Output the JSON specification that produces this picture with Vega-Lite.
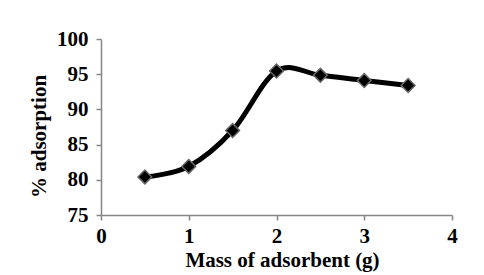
{
  "$schema": "https://vega.github.io/schema/vega-lite/v6.json",
  "autosize": "none",
  "width": 351,
  "height": 176,
  "padding": {"left": 101, "top": 39, "right": 32, "bottom": 60},
  "background": "white",
  "config": {
    "view": {"stroke": null},
    "font": "Liberation Serif",
    "axis": {
      "grid": false,
      "domainColor": "#868686",
      "tickColor": "#868686",
      "domainWidth": 1.5,
      "tickWidth": 1.5,
      "tickSize": 5,
      "labelFont": "Liberation Serif",
      "labelFontSize": 21,
      "labelFontWeight": "bold",
      "labelColor": "black",
      "titleFont": "Liberation Serif",
      "titleFontSize": 21,
      "titleFontWeight": "bold",
      "titleColor": "black"
    }
  },
  "data": {
    "values": [
      {"mass": 0.5, "ads": 80.4},
      {"mass": 1.0, "ads": 81.9},
      {"mass": 1.5, "ads": 87.0},
      {"mass": 2.0, "ads": 95.45},
      {"mass": 2.5, "ads": 94.85},
      {"mass": 3.0, "ads": 94.1},
      {"mass": 3.5, "ads": 93.4}
    ]
  },
  "encoding": {
    "x": {
      "field": "mass",
      "type": "quantitative",
      "scale": {"domain": [0, 4], "nice": false},
      "axis": {"values": [0, 1, 2, 3, 4], "title": "Mass of adsorbent (g)", "labelPadding": 5, "titlePadding": 3, "titleX": 181, "labelFlush": false}
    },
    "y": {
      "field": "ads",
      "type": "quantitative",
      "scale": {"domain": [75, 100], "nice": false, "zero": false},
      "axis": {"values": [75, 80, 85, 90, 95, 100], "title": "% adsorption", "labelPadding": 8, "titlePadding": 7, "titleY": 97, "labelFlush": false}
    }
  },
  "layer": [
    {"mark": {"type": "line", "interpolate": "cardinal", "tension": 0, "color": "black", "strokeWidth": 5}},
    {"mark": {"type": "point", "shape": "diamond", "filled": true, "fill": "black", "stroke": "#666666", "strokeWidth": 1.5, "size": 190, "opacity": 1}}
  ]
}
